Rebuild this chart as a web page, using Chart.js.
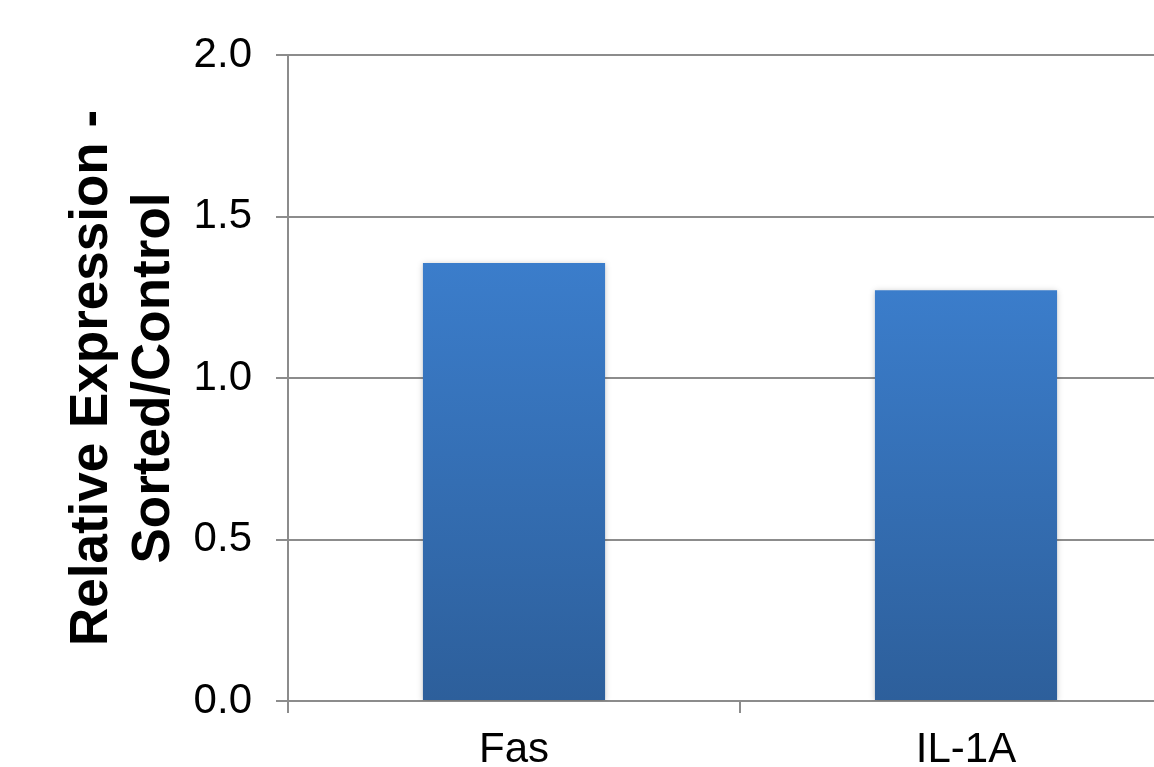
<!DOCTYPE html>
<html>
<head>
<meta charset="utf-8">
<script src="https://cdn.jsdelivr.net/npm/chart.js@4/dist/chart.umd.min.js"></script>
<style>
  html, body { margin: 0; padding: 0; background: #fff; overflow: hidden; }
  #wrap { width: 1192px; height: 767px; position: relative; }
</style>
</head>
<body>
<div id="wrap"><canvas id="expressionChart"></canvas></div>
<script>
// Relative expression, sorted vs control
const categories = ['Fas', 'IL-1A'];
const relExpression = [1.356, 1.272];
const yTicks = [0, 0.5, 1.0, 1.5, 2.0];

const gridGray = '#8c8c8c';
const fontFamily = '"Liberation Sans", Arial, sans-serif';

// per-bar vertical gradient, light blue at the top, darker at the base
function barFill(context) {
    const chart = context.chart;
    const yScale = chart.scales.y;
    if (!chart.chartArea || !yScale) return '#3a78c4';
    const v = context.raw;
    const top = yScale.getPixelForValue(v);
    const bottom = yScale.getPixelForValue(0);
    const g = chart.ctx.createLinearGradient(0, top, 0, bottom);
    g.addColorStop(0, '#3b7dcb');
    g.addColorStop(1, '#2d5f9b');
    return g;
}

// soft shadow round the bars
const barShadow = {
    id: 'barShadow',
    beforeDatasetsDraw(chart) {
        const ctx = chart.ctx;
        ctx.save();
        ctx.shadowColor = 'rgba(0, 0, 0, 0.22)';
        ctx.shadowBlur = 6;
        ctx.shadowOffsetX = 0;
        ctx.shadowOffsetY = 1;
    },
    afterDatasetsDraw(chart) {
        chart.ctx.restore();
    }
};

new Chart(document.getElementById('expressionChart'), {
    type: 'bar',
    data: {
        labels: categories,
        datasets: [{
            data: relExpression,
            backgroundColor: barFill,
            borderWidth: 0,
            barPercentage: 0.403,
            categoryPercentage: 1.0
        }]
    },
    options: {
        responsive: true,
        maintainAspectRatio: false,
        animation: false,
        layout: {
            padding: { top: 55, right: 0, bottom: 0, left: 0 }
        },
        plugins: {
            legend: { display: false },
            tooltip: { enabled: false }
        },
        scales: {
            x: {
                afterFit(scale) { scale.height = 66; },
                grid: {
                    offset: true,
                    drawOnChartArea: false,
                    color: gridGray,
                    lineWidth: 2,
                    tickLength: 12
                },
                border: { color: gridGray, width: 2 },
                ticks: {
                    color: '#000',
                    padding: 12,
                    font: { family: fontFamily, size: 42 }
                }
            },
            y: {
                min: 0,
                max: 2,
                afterFit(scale) { scale.width = 288; },
                afterBuildTicks(scale) {
                    scale.ticks = yTicks.map(v => ({ value: v }));
                },
                grid: {
                    color: gridGray,
                    lineWidth: 2,
                    tickLength: 12
                },
                border: { color: gridGray, width: 2 },
                ticks: {
                    color: '#000',
                    padding: 24,
                    font: { family: fontFamily, size: 42 },
                    callback: v => Number(v).toFixed(1)
                },
                title: {
                    display: true,
                    text: ['Relative Expression -', 'Sorted/Control'],
                    color: '#000',
                    font: { family: fontFamily, size: 53, weight: 'bold', lineHeight: 1.18 },
                    padding: { top: 61, bottom: 0 }
                }
            }
        }
    },
    plugins: [barShadow]
});
</script>
</body>
</html>
